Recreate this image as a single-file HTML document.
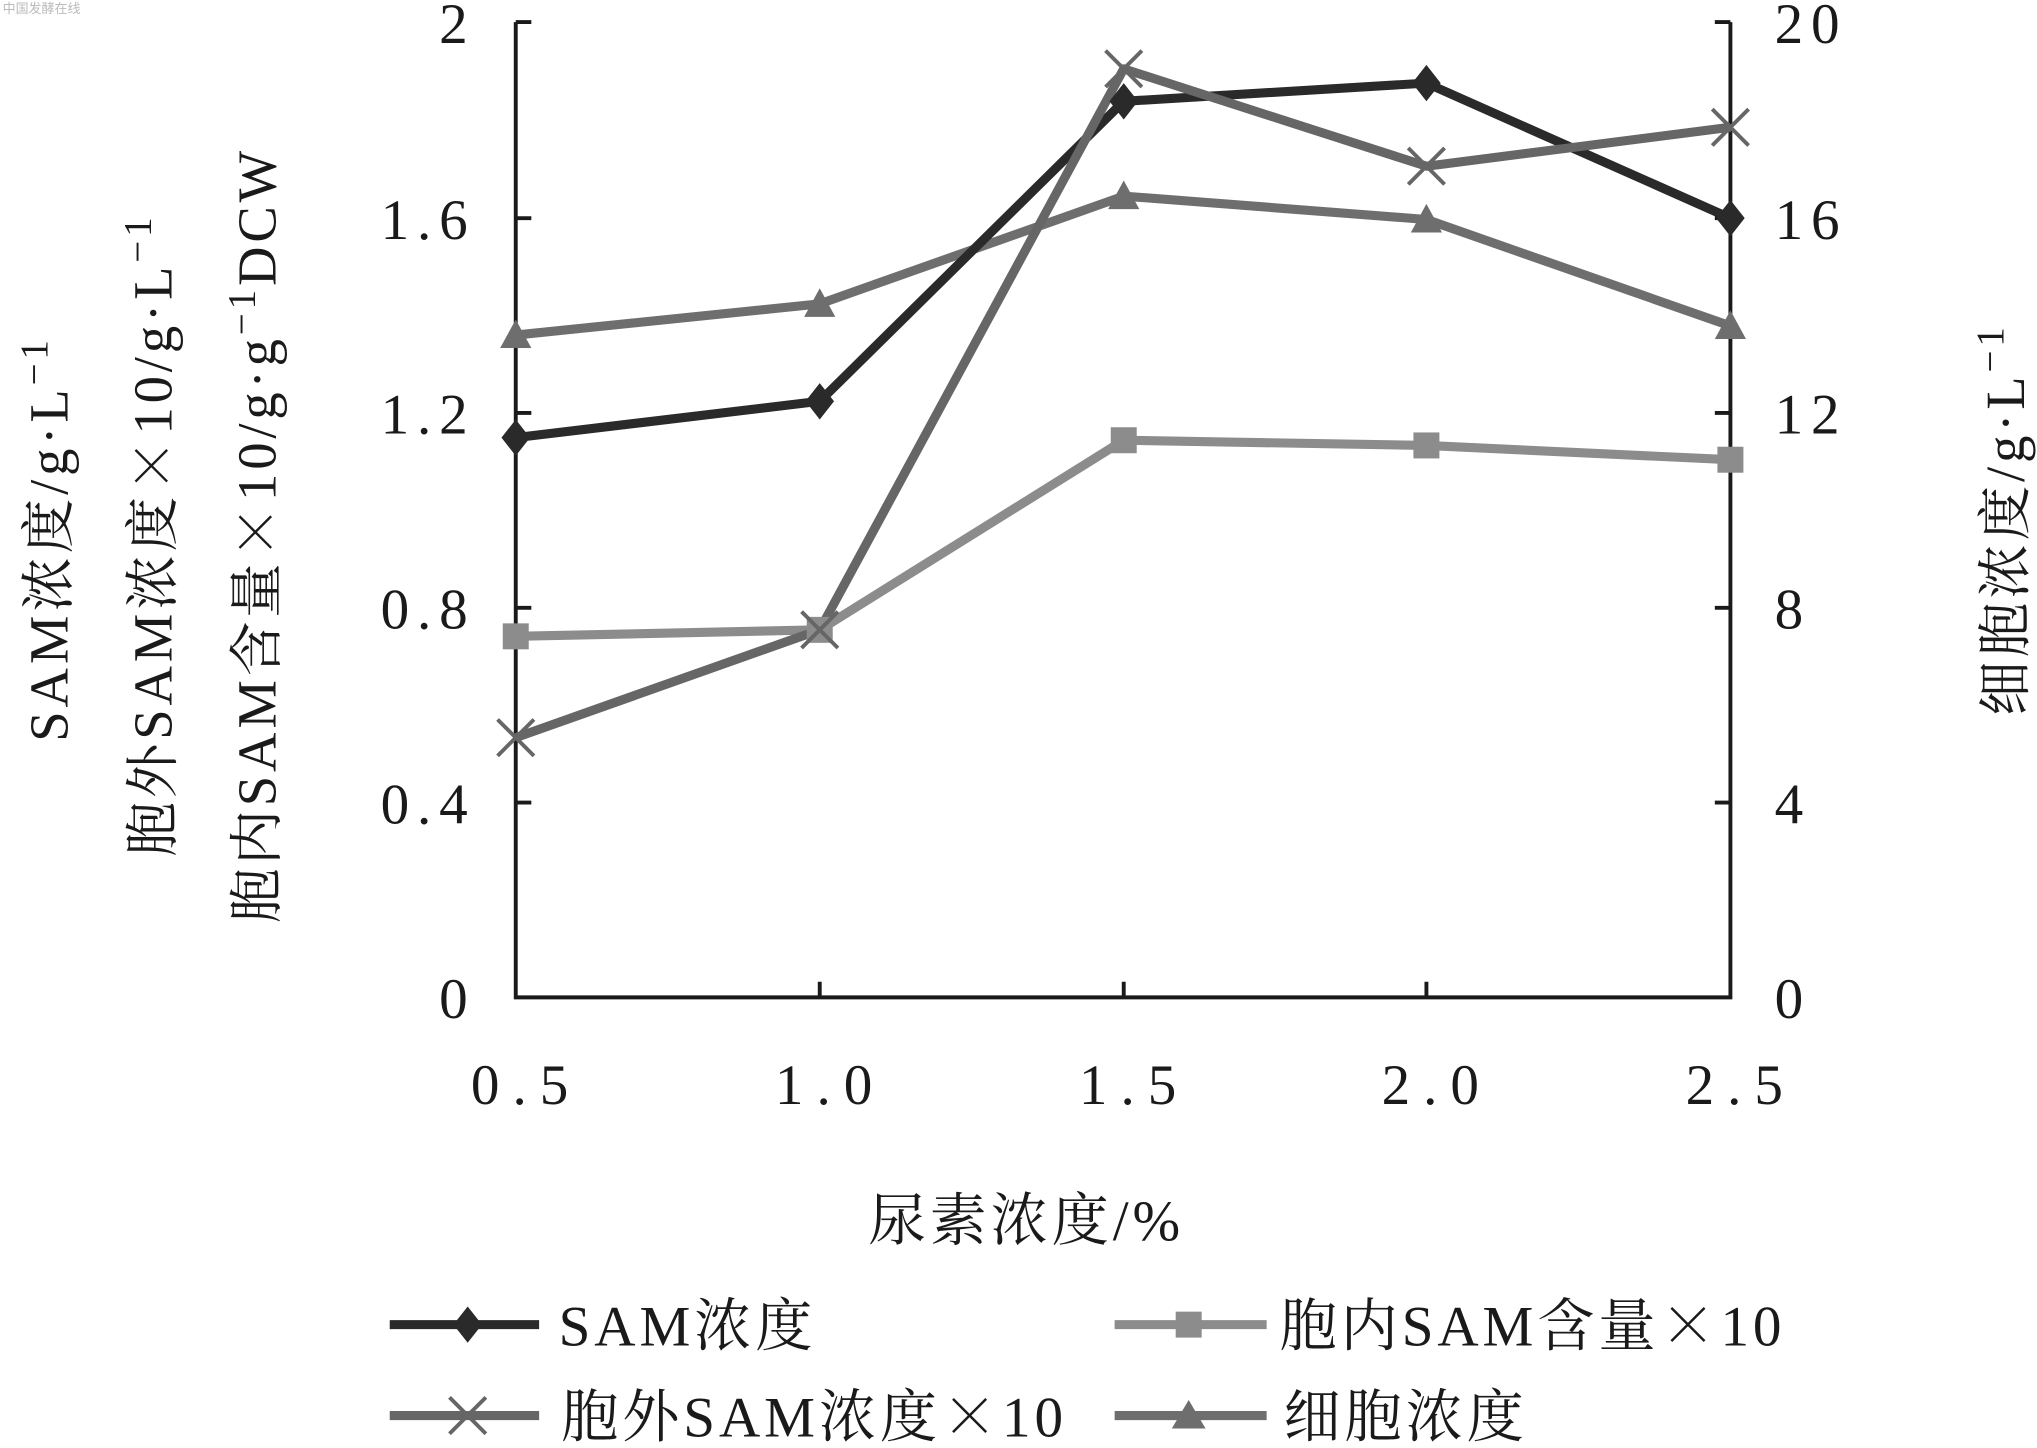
<!DOCTYPE html>
<html><head><meta charset="utf-8"><style>
html,body{margin:0;padding:0;background:#fff;}
svg{display:block;}
text{font-family:"Liberation Serif","Noto Serif CJK SC",serif;fill:#1a1a1a;}
.cj{font-family:"Noto Serif CJK SC",serif;}
</style></head><body>
<svg width="2037" height="1448" viewBox="0 0 1568 1115" preserveAspectRatio="none" xmlns="http://www.w3.org/2000/svg">
<text x="2" y="10" font-size="10" fill="#bbb" style="fill:#bbb;font-family:'Noto Sans CJK SC',sans-serif">中国发酵在线</text>
<g stroke="#1a1a1a" stroke-width="3" fill="none">
<path d="M397,17 V768 H1332 V17"/>
<path d="M397,17 h12 M397,168 h12 M397,318 h12 M397,468 h12 M397,618 h12"/>
<path d="M1332,17 h-12 M1332,168 h-12 M1332,318 h-12 M1332,468 h-12 M1332,618 h-12"/>
<path d="M631,768 v-12 M865,768 v-12 M1098,768 v-12"/>
</g>
<g font-size="44" text-anchor="end" letter-spacing="6">
<text x="366" y="33">2</text>
<text x="366" y="184">1.6</text>
<text x="366" y="334">1.2</text>
<text x="366" y="484">0.8</text>
<text x="366" y="634">0.4</text>
<text x="366" y="784">0</text>
</g>
<g font-size="44" letter-spacing="6">
<text x="1366" y="33">20</text>
<text x="1366" y="184">16</text>
<text x="1366" y="334">12</text>
<text x="1366" y="484">8</text>
<text x="1366" y="634">4</text>
<text x="1366" y="784">0</text>
</g>
<g font-size="44" text-anchor="middle" letter-spacing="10">
<text x="405" y="850">0.5</text>
<text x="639" y="850">1.0</text>
<text x="873" y="850">1.5</text>
<text x="1106" y="850">2.0</text>
<text x="1340" y="850">2.5</text>
</g>
<text x="790" y="955" font-size="44" text-anchor="middle" letter-spacing="3">尿素浓度/%</text>
<g font-size="42" text-anchor="middle" letter-spacing="3">
<text transform="translate(52,415) rotate(-90)">SAM浓度/g·L<tspan dy="-16" font-size="30">−1</tspan></text>
<text transform="translate(132,412) rotate(-90)">胞外SAM浓度<tspan class="cj">×</tspan>10/g·L<tspan dy="-16" font-size="30">−1</tspan></text>
<text transform="translate(212,412) rotate(-90)">胞内SAM含量<tspan class="cj">×</tspan>10/g·g<tspan dy="-16" font-size="30">−1</tspan><tspan dy="16">DCW</tspan></text>
<text transform="translate(1558,400) rotate(-90)">细胞浓度/g·L<tspan dy="-16" font-size="30">−1</tspan></text>
</g>
<g fill="none" stroke-width="7" stroke-linejoin="round">
<polyline stroke="#6e6e6e" points="397,258 631,234 865,151 1098,169 1332,251"/>
<polyline stroke="#8c8c8c" points="397,490 631,485 865,339 1098,343 1332,354"/>
<polyline stroke="#2a2a2a" points="397,337 631,309 865,78 1098,64 1332,168"/>
<polyline stroke="#666" points="397,568 631,485 865,53 1098,128 1332,98"/>
</g>
<g fill="#6e6e6e">
<path d="M397,246 l-12,22 h24z M631,222 l-12,22 h24z M865,139 l-12,22 h24z M1098,157 l-12,22 h24z M1332,239 l-12,22 h24z"/>
</g>
<g fill="#8c8c8c">
<rect x="387" y="480" width="20" height="20"/><rect x="621" y="475" width="20" height="20"/><rect x="855" y="329" width="20" height="20"/><rect x="1088" y="333" width="20" height="20"/><rect x="1322" y="344" width="20" height="20"/>
</g>
<g fill="#2a2a2a">
<path d="M397,323 l11,14 -11,14 -11,-14z M631,295 l11,14 -11,14 -11,-14z M865,64 l11,14 -11,14 -11,-14z M1098,50 l11,14 -11,14 -11,-14z M1332,154 l11,14 -11,14 -11,-14z"/>
</g>
<g stroke="#666" stroke-width="3">
<path d="M383,554 l28,28 M411,554 l-28,28 M617,471 l28,28 M645,471 l-28,28 M851,39 l28,28 M879,39 l-28,28 M1084,114 l28,28 M1112,114 l-28,28 M1318,84 l28,28 M1346,84 l-28,28"/>
</g>
<g stroke-width="7">
<line x1="300" y1="1020" x2="415" y2="1020" stroke="#2a2a2a"/>
<line x1="858" y1="1020" x2="975" y2="1020" stroke="#8c8c8c"/>
<line x1="300" y1="1090" x2="415" y2="1090" stroke="#666"/>
<line x1="858" y1="1090" x2="975" y2="1090" stroke="#6e6e6e"/>
</g>
<path d="M360,1006 l11,14 -11,14 -11,-14z" fill="#2a2a2a"/>
<rect x="905" y="1010" width="20" height="20" fill="#8c8c8c"/>
<path d="M346,1076 l28,28 M374,1076 l-28,28" stroke="#666" stroke-width="3"/>
<path d="M915,1078 l-13,22 h26z" fill="#6e6e6e"/>
<g font-size="44" letter-spacing="3">
<text x="430" y="1036">SAM浓度</text>
<text x="985" y="1036">胞内SAM含量<tspan class="cj">×</tspan>10</text>
<text x="432" y="1106">胞外SAM浓度<tspan class="cj">×</tspan>10</text>
<text x="988" y="1106">细胞浓度</text>
</g>
</svg>
</body></html>
